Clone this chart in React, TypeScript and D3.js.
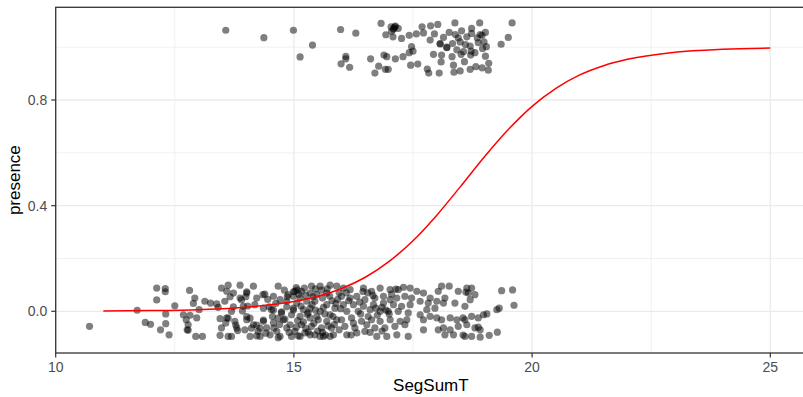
import React from 'react';
import * as d3 from 'd3';

const xTicks = [10, 15, 20, 25];
const yTicks = [0, 0.4, 0.8];
const xMinor = [12.5, 17.5, 22.5];
const yMinor = [0.2, 0.6, 1.0];
const xTitle = 'SegSumT';
const yTitle = 'presence';

// jittered points with presence = 1
const presentPoints: [number, number][] = [
  [13.57, 1.064], [14.37, 1.036], [14.99, 1.064], [15.39, 1.008], [15.13, 0.963], [15.98, 1.067],
  [16.30, 1.053], [16.09, 0.965], [15.99, 0.937], [16.17, 0.924], [16.09, 0.956], [16.83, 1.090],
  [17.12, 1.077], [17.04, 1.077], [17.19, 1.071], [17.08, 1.039], [16.93, 1.047], [17.26, 1.033],
  [17.42, 1.045], [17.57, 1.050], [17.69, 1.077], [17.87, 1.081], [18.02, 1.086], [17.72, 1.054],
  [17.86, 1.027], [18.38, 1.092], [18.73, 1.071], [18.90, 1.092], [19.58, 1.092], [19.50, 1.037],
  [19.35, 1.011], [17.47, 1.002], [17.42, 0.979], [16.89, 0.970], [16.95, 0.964], [16.61, 0.956],
  [16.78, 0.928], [16.70, 0.902], [16.92, 0.916], [16.98, 0.916], [17.13, 0.956], [17.29, 0.964],
  [17.45, 0.932], [17.60, 0.936], [17.80, 0.917], [17.83, 0.902], [18.05, 0.902], [17.93, 0.973],
  [18.10, 0.970], [18.09, 0.944], [18.21, 0.998], [18.07, 1.014], [18.14, 1.037], [18.26, 1.056],
  [18.39, 1.048], [18.52, 1.062], [18.33, 1.014], [18.49, 1.020], [18.63, 1.039], [18.73, 1.052],
  [18.91, 1.048], [19.02, 1.056], [18.87, 1.017], [18.99, 1.020], [18.70, 1.004], [18.56, 0.983],
  [18.32, 0.964], [18.35, 0.932], [18.51, 0.973], [18.71, 0.970], [18.80, 0.979], [19.02, 0.966],
  [18.96, 0.995], [19.04, 1.002], [19.09, 0.939], [19.08, 0.913], [18.95, 0.922], [18.70, 0.916],
  [18.49, 0.910], [18.36, 0.905], [18.82, 0.926], [17.10, 1.072], [18.45, 1.035], [18.60, 1.010],
  [18.95, 1.045], [18.72, 0.985], [17.50, 0.985], [17.05, 1.060], [18.21, 1.000], [18.07, 1.012],
  [17.13, 1.080], [17.09, 1.068], [18.42, 0.990], [18.85, 1.035], [18.58, 0.945], [17.95, 1.050],
];

// jittered points with presence = 0
const absentPoints: [number, number][] = [
  [10.71, -0.057], [11.71, 0.004], [12.12, 0.088], [12.30, 0.086], [12.30, 0.074], [12.12, 0.043],
  [12.50, 0.021], [12.31, -0.010], [11.88, -0.042], [11.99, -0.049], [12.31, -0.047], [12.20, -0.070],
  [12.38, -0.089], [12.81, 0.079], [12.92, 0.050], [12.89, 0.030], [13.01, 0.006], [13.13, 0.038],
  [13.25, 0.031], [13.38, 0.028], [13.48, 0.088], [13.59, 0.076], [13.55, 0.038], [12.68, -0.013],
  [12.82, -0.015], [12.96, -0.025], [12.74, -0.032], [12.78, -0.051], [12.76, -0.070], [12.78, -0.071],
  [12.94, -0.095], [13.08, -0.095], [13.45, -0.028], [13.59, -0.025], [13.57, -0.044], [13.48, -0.063],
  [13.45, -0.091], [13.62, -0.095], [13.41, 0.015], [13.62, 0.099], [13.66, 0.055], [13.62, -0.026],
  [13.87, 0.099], [14.15, 0.095], [14.39, 0.065], [14.35, 0.063], [14.67, 0.095], [15.02, 0.076],
  [15.16, 0.076], [15.37, 0.095], [15.55, 0.095], [15.76, 0.099], [15.90, 0.095], [14.99, 0.057],
  [15.13, 0.050], [15.34, 0.069], [15.48, 0.063], [15.69, 0.069], [14.88, 0.063], [13.73, 0.069],
  [14.01, 0.069], [13.87, 0.050], [14.22, 0.050], [14.57, 0.057], [14.71, 0.044], [14.85, 0.038],
  [15.06, 0.031], [15.27, 0.038], [15.44, 0.038], [15.69, 0.025], [15.86, 0.012], [15.76, -0.013],
  [15.55, 0.000], [15.34, 0.012], [15.20, 0.006], [14.99, 0.012], [13.69, 0.000], [13.94, 0.019],
  [14.18, 0.025], [14.36, 0.012], [14.53, 0.006], [14.74, -0.006], [14.95, -0.013], [15.13, -0.019],
  [15.34, -0.025], [15.51, -0.032], [15.69, -0.038], [15.90, -0.032], [13.76, -0.038], [14.01, -0.032],
  [14.15, -0.051], [14.36, -0.038], [14.57, -0.044], [14.78, -0.032], [14.92, -0.051], [15.16, -0.051],
  [15.37, -0.057], [15.58, -0.063], [15.79, -0.063], [13.80, -0.063], [13.97, -0.070], [14.25, -0.076],
  [14.43, -0.063], [14.64, -0.076], [14.85, -0.063], [15.02, -0.076], [15.23, -0.082], [15.44, -0.089],
  [15.62, -0.095], [15.83, -0.089], [13.69, -0.095], [14.08, -0.095], [14.29, -0.095], [14.50, -0.089],
  [14.71, -0.095], [14.95, -0.095], [15.13, -0.095], [15.34, -0.089], [15.55, -0.095], [15.76, -0.095],
  [14.01, 0.074], [13.99, 0.055], [13.78, -0.052], [13.82, -0.073], [14.01, -0.020], [14.08, -0.026],
  [14.11, -0.064], [14.22, -0.052], [14.29, -0.064], [14.36, -0.033], [14.58, -0.064], [14.67, -0.026],
  [14.81, -0.030], [14.74, -0.002], [14.57, 0.005], [14.85, 0.017], [14.99, 0.005], [14.86, 0.055],
  [14.99, 0.074], [15.07, 0.081], [14.48, 0.017], [13.90, 0.043], [14.03, 0.020], [13.73, 0.017],
  [13.92, 0.001], [14.67, -0.100], [14.41, -0.083], [14.22, -0.093], [15.09, -0.093],
  [15.25, 0.060], [15.45, 0.085], [15.60, 0.050], [15.80, 0.040], [15.30, -0.005], [15.65, -0.010],
  [15.85, -0.050], [15.50, -0.075], [15.20, -0.040], [15.95, 0.070], [15.70, 0.085], [15.05, 0.090],
  [15.10, 0.065], [15.22, 0.088], [15.40, 0.055], [15.58, 0.080], [15.75, 0.058], [15.92, 0.045],
  [15.15, 0.020], [15.28, -0.012], [15.45, 0.005], [15.62, 0.015], [15.82, -0.020], [15.98, 0.010],
  [15.08, -0.035], [15.25, -0.065], [15.42, -0.045], [15.60, -0.080], [15.72, -0.055], [15.95, -0.070],
  [15.05, -0.060], [15.30, -0.078], [15.48, -0.020], [15.88, 0.030], [15.66, -0.090], [15.38, 0.025],
  [14.80, 0.080], [14.62, 0.030], [14.45, 0.045], [14.90, -0.080], [14.55, -0.020], [14.70, -0.050],
  [16.04, 0.088], [16.18, 0.082], [16.46, 0.088], [16.63, 0.076], [16.81, 0.088], [17.02, 0.082],
  [17.19, 0.082], [17.14, 0.084], [17.30, 0.091], [17.44, 0.088], [17.58, 0.076], [17.72, 0.069],
  [17.86, 0.050], [18.03, 0.076], [16.00, 0.057], [16.18, 0.050], [16.32, 0.057], [16.49, 0.044],
  [16.70, 0.050], [16.88, 0.057], [17.02, 0.044], [17.16, 0.050], [17.33, 0.057], [17.47, 0.050],
  [17.65, 0.038], [17.82, 0.031], [18.00, 0.038], [16.04, 0.025], [16.25, 0.025], [16.46, 0.019],
  [16.67, 0.025], [16.88, 0.031], [17.09, 0.025], [17.26, 0.019], [17.44, 0.025], [16.11, 0.000],
  [16.35, 0.000], [16.60, 0.006], [16.81, 0.000], [16.98, 0.000], [16.93, 0.005], [17.19, 0.000],
  [17.40, -0.006], [17.65, -0.013], [17.79, 0.006], [17.96, 0.012], [16.00, -0.032], [16.21, -0.025],
  [16.42, -0.038], [16.63, -0.032], [16.81, -0.038], [17.02, -0.032], [17.23, -0.038], [17.37, -0.032],
  [17.72, -0.032], [17.86, -0.019], [18.00, -0.025], [16.07, -0.057], [16.28, -0.063], [16.53, -0.051],
  [16.70, -0.063], [16.91, -0.063], [17.12, -0.057], [17.33, -0.051], [17.72, -0.070], [18.03, -0.070],
  [16.11, -0.089], [16.32, -0.082], [16.49, -0.076], [16.74, -0.095], [16.95, -0.095], [17.16, -0.089],
  [17.40, -0.095], [16.15, 0.040], [16.55, 0.070], [16.40, -0.010], [16.75, -0.015], [17.05, 0.065],
  [16.60, -0.080], [16.85, 0.015], [16.10, 0.070], [16.25, -0.045], [16.38, 0.035], [16.56, -0.020],
  [16.72, 0.012], [16.85, -0.075], [17.00, -0.010], [16.20, -0.090], [16.45, 0.075], [16.66, 0.060],
  [18.10, 0.095], [18.26, 0.095], [18.45, 0.076], [18.63, 0.088], [18.73, 0.088], [18.66, 0.069],
  [18.61, 0.073], [18.80, 0.063], [18.17, 0.050], [18.14, 0.031], [18.38, 0.031], [18.59, 0.019],
  [18.70, 0.044], [19.36, 0.078], [19.59, 0.081], [19.62, 0.023], [19.31, 0.012], [19.26, 0.006],
  [18.10, -0.032], [18.28, -0.025], [18.42, -0.032], [18.59, -0.032], [18.55, -0.025], [18.73, -0.019],
  [18.87, -0.025], [18.98, -0.013], [19.05, -0.010], [18.14, -0.063], [18.28, -0.070], [18.45, -0.057],
  [18.63, -0.051], [18.80, -0.063], [18.91, -0.070], [18.87, -0.060], [18.17, -0.089], [18.35, -0.089],
  [18.59, -0.095], [18.55, -0.090], [18.73, -0.095], [18.91, -0.098], [19.10, -0.091], [19.27, -0.079],
];

// fitted logistic curve
const curveX = [11, 12, 13, 14, 15, 15.5, 16, 16.5, 17, 17.5, 18, 18.5, 19, 19.5, 20, 20.5, 21, 21.5, 22, 23, 24, 25];
const curveY = [0.00105, 0.00258, 0.00632, 0.0154, 0.037, 0.0569, 0.0864, 0.129, 0.189, 0.267, 0.364, 0.473,
  0.585, 0.688, 0.776, 0.844, 0.895, 0.93, 0.954, 0.981, 0.9922, 0.9968];

export default function App() {
  const W = 803;
  const H = 397;
  const left = 55.7;
  const right = 806;
  const top = 7.3;
  const bottom = 353;
  const x = d3.scaleLinear().domain([10, 25]).range([55.7, 770.3]);
  const y = d3.scaleLinear().domain([0, 0.8]).range([311.3, 100]);
  const curveData = curveX.map((v, i) => [v, curveY[i]] as [number, number]);
  const line = d3
    .line<[number, number]>()
    .x((d) => x(d[0]))
    .y((d) => y(d[1]))
    .curve(d3.curveMonotoneX);
  const font = '"Liberation Sans", Arial, Helvetica, sans-serif';
  const grid = '#EBEBEB';
  const all = [...absentPoints, ...presentPoints];
  return (
    <svg
      width={W}
      height={H}
      style={{ position: 'absolute', left: 0, top: 0, background: '#fff' }}
      fontFamily={font}
    >
      <defs>
        <clipPath id="panel">
          <rect x={left} y={top} width={right - left} height={bottom - top} />
        </clipPath>
      </defs>
      <rect x={0} y={0} width={W} height={H} fill="#fff" />
      <g clipPath="url(#panel)">
        {yMinor.map((t) => (
          <line key={'ym' + t} x1={left} x2={right} y1={y(t)} y2={y(t)} stroke={grid} strokeWidth={0.7} />
        ))}
        {xMinor.map((t) => (
          <line key={'xm' + t} x1={x(t)} x2={x(t)} y1={top} y2={bottom} stroke={grid} strokeWidth={0.7} />
        ))}
        {yTicks.map((t) => (
          <line key={'yg' + t} x1={left} x2={right} y1={y(t)} y2={y(t)} stroke={grid} strokeWidth={1.3} />
        ))}
        {xTicks.map((t) => (
          <line key={'xg' + t} x1={x(t)} x2={x(t)} y1={top} y2={bottom} stroke={grid} strokeWidth={1.3} />
        ))}
        {all.map((p, i) => (
          <circle key={i} cx={x(p[0])} cy={y(p[1])} r={3.6} fill="#000" fillOpacity={0.5} />
        ))}
        <path d={line(curveData) || ''} fill="none" stroke="#FF0000" strokeWidth={1.5} />
      </g>
      <rect x={left} y={top} width={right - left} height={bottom - top} fill="none" stroke="#333333" strokeWidth={1.3} />
      {yTicks.map((t) => (
        <g key={'yt' + t}>
          <line x1={left - 4.4} x2={left} y1={y(t)} y2={y(t)} stroke="#333333" strokeWidth={1.2} />
          <text x={left - 8.5} y={y(t)} dy="0.35em" textAnchor="end" fontSize={14} fill="#4D4D4D">
            {d3.format('.1f')(t)}
          </text>
        </g>
      ))}
      {xTicks.map((t) => (
        <g key={'xt' + t}>
          <line x1={x(t)} x2={x(t)} y1={bottom} y2={bottom + 4.4} stroke="#333333" strokeWidth={1.2} />
          <text x={x(t)} y={372} textAnchor="middle" fontSize={14} fill="#4D4D4D">
            {String(t)}
          </text>
        </g>
      ))}
      <text x={(left + right) / 2} y={391} textAnchor="middle" fontSize={17} fill="#000">
        {xTitle}
      </text>
      <text
        transform={`translate(19.5,${(top + bottom) / 2}) rotate(-90)`}
        textAnchor="middle"
        fontSize={17}
        fill="#000"
      >
        {yTitle}
      </text>
    </svg>
  );
}
